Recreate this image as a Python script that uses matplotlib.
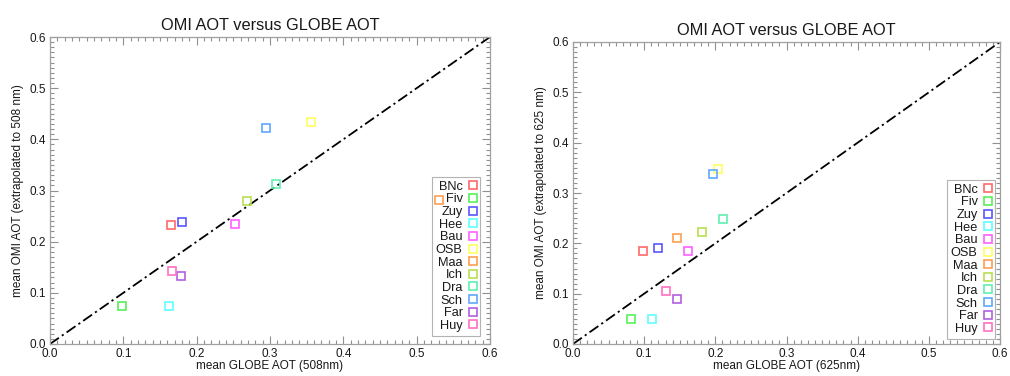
import matplotlib
matplotlib.use("Agg")
import matplotlib.pyplot as plt
from matplotlib.ticker import MultipleLocator

plt.rcParams['font.family'] = ['Liberation Sans', 'DejaVu Sans']

stations = ["BNc", "Fiv", "Zuy", "Hee", "Bau", "OSB", "Maa", "Ich", "Dra", "Sch", "Far", "Huy"]
colors = ["#ff6868", "#58f058", "#5858ff", "#60ffff", "#ff60ff", "#ffff60",
          "#ffa050", "#b8e050", "#60f0b0", "#60a8ff", "#b060e0", "#ff70c0"]

# Left panel: 508 nm
globe_508 = [0.165, 0.098, 0.180, 0.162, 0.252, 0.356, 0.530, 0.269, 0.308, 0.295, 0.179, 0.166]
omi_508   = [0.233, 0.074, 0.238, 0.075, 0.234, 0.433, 0.281, 0.279, 0.312, 0.423, 0.132, 0.142]

# Right panel: 625 nm
globe_625 = [0.099, 0.081, 0.119, 0.111, 0.162, 0.204, 0.146, 0.181, 0.211, 0.197, 0.146, 0.130]
omi_625   = [0.185, 0.049, 0.191, 0.049, 0.184, 0.348, 0.211, 0.223, 0.249, 0.337, 0.090, 0.106]

ticks = [0.0, 0.1, 0.2, 0.3, 0.4, 0.5, 0.6]
title = "OMI AOT versus GLOBE AOT"
xlabels = ["mean GLOBE AOT (508nm)", "mean GLOBE AOT (625nm)"]
ylabels = ["mean OMI AOT (extrapolated to 508 nm)", "mean OMI AOT (extrapolated to 625 nm)"]

fig = plt.figure(figsize=(10.10, 3.76), dpi=100)
W, H = 1010, 376
boxes = [(50, 37, 490, 344), (573, 42, 1000, 344)]
data = [(globe_508, omi_508), (globe_625, omi_625)]
legend_boxes = [(432, 177, 482, 333), (947, 180, 997, 336)]

for i, ((x0, y0, x1, y1), (gx, oy)) in enumerate(zip(boxes, data)):
    ax = fig.add_axes([x0 / W, 1 - y1 / H, (x1 - x0) / W, (y1 - y0) / H])
    ax.set_xlim(0, 0.6)
    ax.set_ylim(0, 0.6)
    ax.plot([0, 0.6], [0, 0.6], color='black', lw=1.3, ls=(0, (6, 2, 1.2, 2)))
    for s, c, xv, yv in zip(stations, colors, gx, oy):
        ax.plot([xv], [yv], ls='none', marker='s', ms=5.5, mfc='none', mec=c, mew=1.2,
                label=s, zorder=6)
    ax.set_xticks(ticks)
    ax.set_yticks(ticks)
    ax.set_xticklabels(["%.1f" % t for t in ticks])
    ax.set_yticklabels(["%.1f" % t for t in ticks])
    ax.xaxis.set_minor_locator(MultipleLocator(0.01))
    ax.yaxis.set_minor_locator(MultipleLocator(0.01))
    ax.tick_params(which='both', direction='in', top=True, right=True, colors='#909090',
                   labelcolor='#181818', labelsize=8.5, width=0.8)
    ax.tick_params(which='major', length=6, pad=3)
    ax.tick_params(which='minor', length=3)
    for sp in ax.spines.values():
        sp.set_color('#a0a0a0')
        sp.set_linewidth(0.9)
    ax.set_title(title, fontsize=11.8, color='#181818', pad=5)
    ax.set_xlabel(xlabels[i], fontsize=8.5, color='#181818', labelpad=0)
    ax.set_ylabel(ylabels[i], fontsize=8.5, color='#181818', labelpad=4)
    lx0, ly0, lx1, ly1 = legend_boxes[i]
    leg = ax.legend(loc='upper left', markerfirst=False, frameon=True, fancybox=False,
                    bbox_to_anchor=((lx0 - x0) / (x1 - x0), 1 - (ly0 - y0) / (y1 - y0)),
                    borderaxespad=0, fontsize=9.2, handlelength=0.6, handletextpad=0.5,
                    labelspacing=0.05, borderpad=0.3, alignment='right')
    leg.set_zorder(5)
    leg.get_frame().set_edgecolor('#a0a0a0')
    leg.get_frame().set_linewidth(0.8)
    for h in leg.legend_handles:
        h.set_markersize(5.5)
    for t in leg.get_texts():
        t.set_ha('right')
        t.set_color('#181818')

fig.savefig("out.png", dpi=100)
